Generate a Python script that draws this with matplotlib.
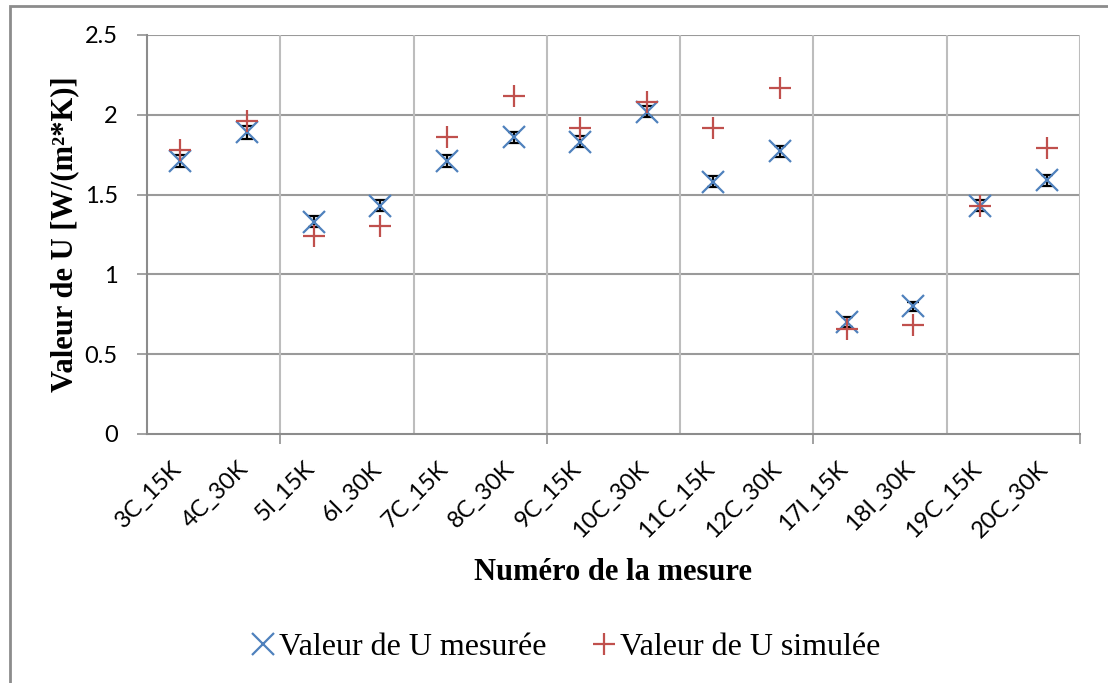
import matplotlib.pyplot as plt
import numpy as np
from matplotlib.patches import Rectangle
from matplotlib.lines import Line2D

# Measurements (measured vs simulated U values)
labels = ['3C_15K', '4C_30K', '5I_15K', '6I_30K', '7C_15K', '8C_30K', '9C_15K',
          '10C_30K', '11C_15K', '12C_30K', '17I_15K', '18I_30K', '19C_15K', '20C_30K']
u_mesure = [1.71, 1.89, 1.33, 1.43, 1.71, 1.86, 1.83, 2.02, 1.58, 1.77, 0.70, 0.80, 1.43, 1.59]
u_erreur = [0.04, 0.04, 0.035, 0.035, 0.035, 0.035, 0.035, 0.035, 0.035, 0.035, 0.03, 0.03, 0.035, 0.035]
u_simule = [1.78, 1.96, 1.24, 1.30, 1.86, 2.12, 1.92, 2.08, 1.92, 2.17, 0.66, 0.68, 1.43, 1.79]

bleu = '#4F81BD'
rouge = '#C0504D'
tick_font = 'Lato'
serif = 'Liberation Serif'

fig = plt.figure(figsize=(11.08, 6.83), dpi=100)
ax = fig.add_axes([0.1327, 0.3646, 0.842, 0.5842])

x = np.arange(len(labels))

# horizontal and vertical grid
for yv in np.arange(0.5, 2.51, 0.5):
    ax.axhline(yv, color='#9a9a9a', lw=1.5, zorder=0)
for xv in np.arange(1.5, len(labels), 2):
    ax.axvline(xv, color='#bdbdbd', lw=1.5, zorder=0)

ax.errorbar(x, u_mesure, yerr=u_erreur, fmt='none', ecolor='black',
            elinewidth=1.6, capsize=4, capthick=1.6, zorder=2)
ax.plot(x, u_mesure, 'x', color=bleu, ms=16, mew=1.6, zorder=3)
ax.plot(x, u_simule, '+', color=rouge, ms=16, mew=1.6, zorder=4)

ax.set_xlim(-0.5, len(labels) - 0.5)
ax.set_ylim(0, 2.5)
ax.set_yticks(np.arange(0, 2.51, 0.5))
ax.set_yticklabels(['0', '0.5', '1', '1.5', '2', '2.5'], fontsize=17, family=tick_font)
ax.tick_params(axis='y', length=7, width=1.3, color='#9a9a9a', pad=14)

# category labels, tick marks every four categories
ax.set_xticks(np.arange(1.5, len(labels), 4))
ax.set_xticklabels([])
ax.tick_params(axis='x', length=7, width=1.3, color='#9a9a9a')
for xi, lab in zip(x, labels):
    ax.text(xi - 0.14, -0.15, lab, rotation=45, ha='right', va='top',
            rotation_mode='anchor', fontsize=17, family=tick_font,
            transform=ax.transData, clip_on=False)

for s in ['top', 'right']:
    ax.spines[s].set_visible(False)
for s in ['left', 'bottom']:
    ax.spines[s].set_color('#8c8c8c')
    ax.spines[s].set_linewidth(1.5)

ax.set_ylabel('Valeur de U [W/(m²*K)]', fontsize=22, family=serif,
              fontweight='bold')
ax.yaxis.set_label_coords(-0.073, 0.5)
fig.text(0.553, 0.162, 'Numéro de la mesure', ha='center', va='center',
         fontsize=22, family=serif, fontweight='bold')

handles = [Line2D([], [], ls='none', marker='x', color=bleu, ms=16, mew=1.6),
           Line2D([], [], ls='none', marker='+', color=rouge, ms=16, mew=1.6)]
fig.legend(handles, ['Valeur de U mesurée', 'Valeur de U simulée'],
           loc='center', bbox_to_anchor=(0.51, 0.052), ncol=2, frameon=False,
           prop={'family': serif, 'size': 23}, handlelength=0.8,
           handletextpad=0.1, columnspacing=1.4)

# outer chart frame
fig.patches.append(Rectangle((10 / 1108, -0.1), 1.2, 1 - 6 / 683 + 0.1,
                             transform=fig.transFigure, fill=False,
                             edgecolor='#8c8c8c', lw=2))

fig.savefig('out.png', dpi=100)
